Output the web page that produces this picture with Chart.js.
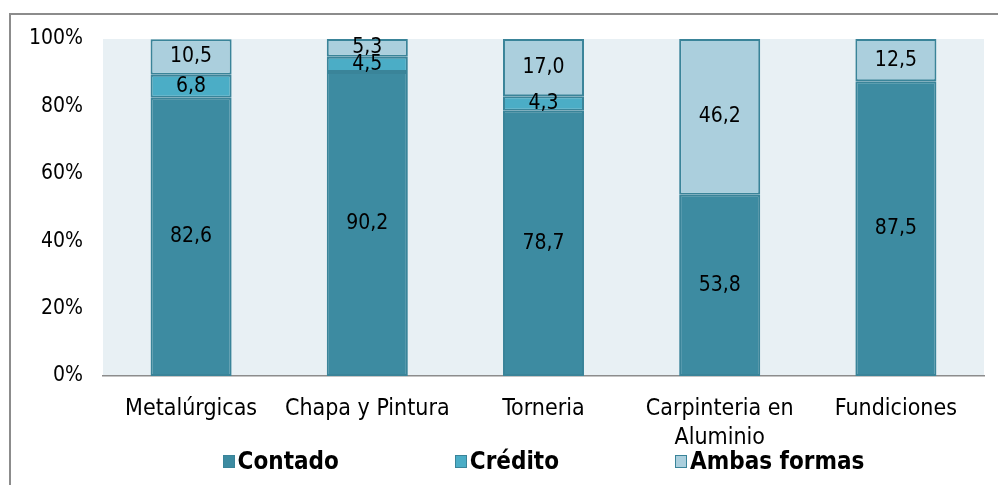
<!DOCTYPE html>
<html>
<head>
<meta charset="utf-8">
<script src="https://cdn.jsdelivr.net/npm/chart.js@4/dist/chart.umd.min.js"></script>
<style>
    html, body { margin: 0; padding: 0; background: #fff; }
    #wrap { position: relative; width: 998px; height: 485px; overflow: hidden; }
    #frame { position: absolute; left: 9px; top: 13px; right: -5px; bottom: -5px;
             border-left: 2px solid #8c8c8c; border-top: 2px solid #8c8c8c; pointer-events: none; }
    #legend { position: absolute; left: 103px; width: 881px; top: 447px; display: flex;
              justify-content: center; gap: 116px;
              font: bold 24px 'DejaVu Sans Condensed', 'DejaVu Sans', sans-serif; color: #000; }
    #legend .item { display: flex; align-items: center; white-space: nowrap; }
    #legend .box { width: 10px; height: 11px; border: 1.5px solid #3a8499; margin-right: 3px; }
</style>
</head>
<body>
<div id="wrap">
    <canvas id="chart" width="998" height="485"></canvas>
    <div id="frame"></div>
    <div id="legend"></div>
</div>
<script>
const categories = ['Metalúrgicas', 'Chapa y Pintura', 'Torneria', ['Carpinteria en', 'Aluminio'], 'Fundiciones'];
const contado = [82.6, 90.2, 78.7, 53.8, 87.5];
const credito = [6.8, 4.5, 4.3, 0, 0];
const ambas = [10.5, 5.3, 17.0, 46.2, 12.5];
const yTicks = [0, 20, 40, 60, 80, 100];

const seriesNames = ['Contado', 'Crédito', 'Ambas formas'];
const fillColors = ['#3d8ba1', '#4badc6', '#abcfdd'];
const edgeColor = '#3a8499';
const fontFamily = "'DejaVu Sans Condensed', 'DejaVu Sans', sans-serif";

// light plot background like the original sheet chart
const plotBackground = {
    id: 'plotBackground',
    beforeDraw(chart) {
        const { ctx, chartArea } = chart;
        ctx.save();
        ctx.fillStyle = '#e8f0f4';
        ctx.fillRect(chartArea.left, chartArea.top, chartArea.right - chartArea.left, chartArea.bottom - chartArea.top);
        ctx.restore();
    }
};

// value in the middle of each segment, comma decimals
const valueLabels = {
    id: 'valueLabels',
    afterDatasetsDraw(chart) {
        const ctx = chart.ctx;
        ctx.save();
        ctx.font = `21px ${fontFamily}`;
        ctx.fillStyle = '#000';
        ctx.textAlign = 'center';
        ctx.textBaseline = 'middle';
        chart.data.datasets.forEach((ds, i) => {
            const meta = chart.getDatasetMeta(i);
            meta.data.forEach((bar, j) => {
                const v = ds.data[j];
                if (!v) return;
                const { x, y, base } = bar.getProps(['x', 'y', 'base'], true);
                ctx.fillText(v.toFixed(1).replace('.', ','), x, (y + base) / 2);
            });
        });
        ctx.restore();
    }
};

const datasets = [contado, credito, ambas].map((values, i) => ({
    label: seriesNames[i],
    data: values,
    backgroundColor: fillColors[i],
    borderColor: edgeColor,
    borderWidth: 2,
    borderSkipped: false,
    barPercentage: 0.46,
    categoryPercentage: 1
}));

new Chart(document.getElementById('chart'), {
    type: 'bar',
    data: { labels: categories, datasets: datasets },
    options: {
        responsive: false,
        animation: false,
        devicePixelRatio: 1,
        layout: { padding: { left: 10, top: 39, right: 14, bottom: 0 } },
        plugins: {
            legend: { display: false },
            tooltip: { enabled: false }
        },
        scales: {
            x: {
                stacked: true,
                grid: { display: false },
                border: { display: true, color: '#8c8c8c', width: 1.5 },
                ticks: {
                    color: '#000',
                    padding: 11,
                    maxRotation: 0,
                    autoSkip: false,
                    font: { family: fontFamily, size: 23, lineHeight: 1.25 }
                },
                afterFit(scale) { scale.height = 109; }
            },
            y: {
                stacked: true,
                min: 0,
                max: 100,
                grid: { display: false, drawTicks: false },
                border: { display: false },
                afterBuildTicks(scale) { scale.ticks = yTicks.map(v => ({ value: v })); },
                ticks: {
                    color: '#000',
                    padding: 20,
                    font: { family: fontFamily, size: 21 },
                    callback: v => v + '%'
                },
                afterFit(scale) { scale.width = 93; }
            }
        }
    },
    plugins: [plotBackground, valueLabels]
});

const legendEl = document.getElementById('legend');
seriesNames.forEach((name, i) => {
    const item = document.createElement('div');
    item.className = 'item';
    item.innerHTML = `<span class="box" style="background:${fillColors[i]}"></span><span>${name}</span>`;
    legendEl.appendChild(item);
});
</script>
</body>
</html>
